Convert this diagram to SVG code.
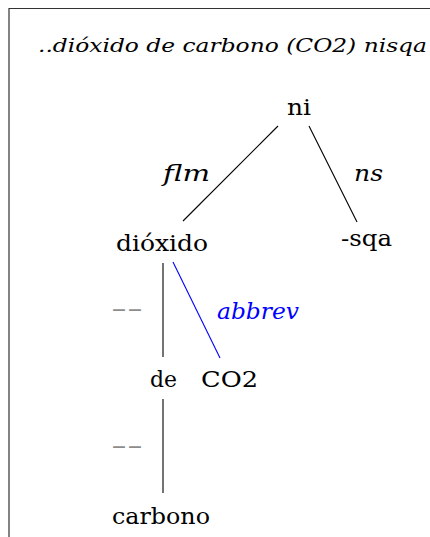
<svg xmlns="http://www.w3.org/2000/svg" width="430" height="537" viewBox="0 0 430 537">
<style>
text{font-family:'DejaVu Serif','Liberation Serif','Noto Serif',serif}
.t{font-size:22px;fill:#000}
.i{font-style:italic}
.title{font-size:19px;font-style:italic;fill:#000}
.e{stroke:#000;stroke-width:1.1;fill:none}
.bl{stroke:#0000ff}
.bt{fill:#0000ff}
.g{fill:#8c8c8c}
</style>
<rect width="430" height="537" fill="#fff"/>
<path d="M9,537 V8.5 H430" fill="none" stroke="#333" stroke-width="1.2"/>
<text class="title" x="38" y="52" textLength="389" lengthAdjust="spacingAndGlyphs">..dióxido de carbono (CO2) nisqa</text>
<g id="connectors">
<line class="e" x1="278" y1="126" x2="183" y2="221"/>
<line class="e" x1="309" y1="126" x2="357" y2="222"/>
<line class="e" x1="163" y1="263" x2="163" y2="357"/>
<line class="e bl" x1="173" y1="262" x2="220" y2="358"/>
<line class="e" x1="163" y1="399" x2="163" y2="493"/>
<text class="t i" x="163" y="181" textLength="47" lengthAdjust="spacingAndGlyphs">flm</text>
<text class="t i" x="354" y="181" textLength="29" lengthAdjust="spacingAndGlyphs">ns</text>
<text class="t i bt" x="217" y="319" textLength="82" lengthAdjust="spacingAndGlyphs">abbrev</text>
<text class="t g" x="111" y="316" textLength="32" lengthAdjust="spacingAndGlyphs">--</text>
<text class="t g" x="111" y="453" textLength="32" lengthAdjust="spacingAndGlyphs">--</text>
</g>
<g id="ni"><text class="t" x="287" y="115" textLength="24" lengthAdjust="spacingAndGlyphs">ni</text></g>
<g id="dioxido"><text class="t" x="116" y="251" textLength="92" lengthAdjust="spacingAndGlyphs">dióxido</text></g>
<g id="sqa"><text class="t" x="341" y="246" textLength="51" lengthAdjust="spacingAndGlyphs">-sqa</text></g>
<g id="de"><text class="t" x="150" y="387" textLength="27" lengthAdjust="spacingAndGlyphs">de</text></g>
<g id="co2"><text class="t" x="201" y="387" textLength="57" lengthAdjust="spacingAndGlyphs">CO2</text></g>
<g id="carbono"><text class="t" x="112" y="524" textLength="98" lengthAdjust="spacingAndGlyphs">carbono</text></g>
</svg>
